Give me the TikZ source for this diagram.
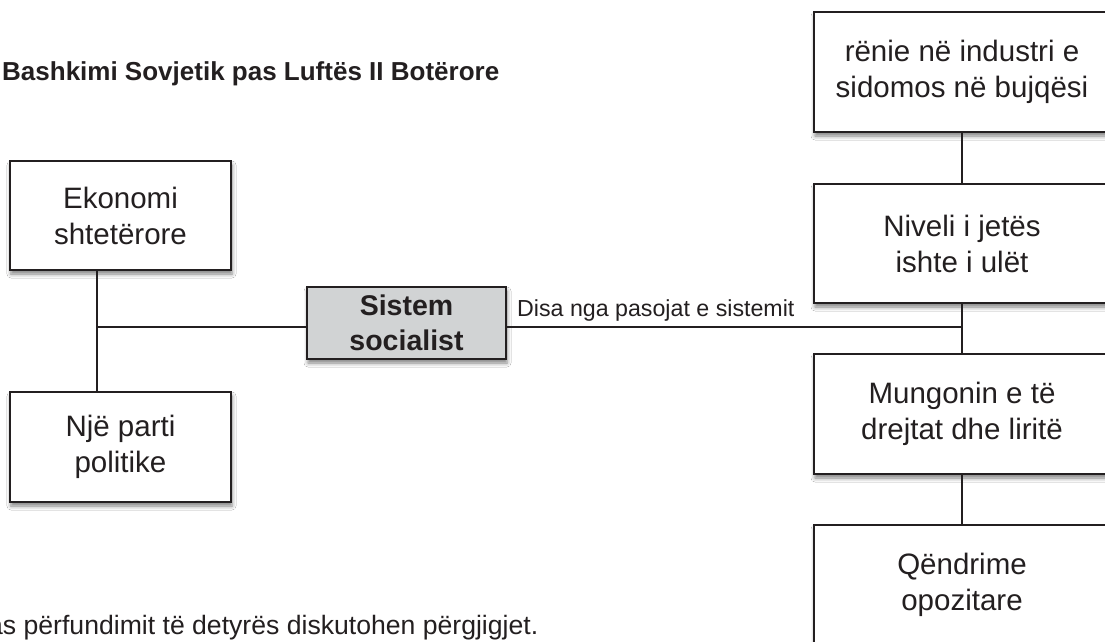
\documentclass[tikz,border=0pt]{standalone}
\usepackage{fontspec}
\setmainfont{Liberation Sans}
\usetikzlibrary{shadows.blur}
\definecolor{ink}{HTML}{231F20}
\definecolor{boxgray}{HTML}{D1D3D4}
\begin{document}
\begin{tikzpicture}[x=1pt,y=-1pt,
  every node/.style={text=ink},
  bx/.style={draw=ink, line width=1.1pt, fill=white, align=center, inner sep=0pt,
    font=\fontsize{29.5}{36}\selectfont,
    blur shadow={shadow xshift=1pt, shadow yshift=-4pt, shadow blur radius=4pt, shadow opacity=50}},
  conn/.style={draw=ink, line width=1.1pt}]
\useasboundingbox[fill=white] (0,0) rectangle (1105,642);

% title and bottom text
\node[anchor=base west, inner sep=0pt, font=\bfseries\fontsize{26}{30}\selectfont] (title) at (2,81) {Bashkimi Sovjetik pas Luftës II Botërore};
\node[anchor=base west, inner sep=0pt, font=\fontsize{26.6}{32}\selectfont] (bottom) at (-12,634) {as përfundimit të detyrës diskutohen përgjigjet.};

% left boxes
\node[bx, minimum width=221pt, minimum height=109pt] (eko) at (120.5,215.5) {Ekonomi\\shtetërore};
\node[bx, minimum width=221pt, minimum height=110pt] (nje) at (120.5,447) {Një parti\\politike};

% centre box
\node[bx, fill=boxgray, minimum width=199pt, minimum height=72pt, font=\bfseries\fontsize{28.5}{35}\selectfont] (sis) at (406.5,323) {Sistem\\socialist};

% right boxes
\node[bx, minimum width=296pt, minimum height=120pt] (r1) at (962,72) {rënie në industri e\\sidomos në bujqësi};
\node[bx, minimum width=296pt, minimum height=119pt] (r2) at (962,243.5) {Niveli i jetës\\ishte i ulët};
\node[bx, minimum width=296pt, minimum height=120pt] (r3) at (962,414) {Mungonin e të\\drejtat dhe liritë};
\node[bx, minimum width=296pt, minimum height=120pt] (r4) at (962,585) {Qëndrime\\opozitare};

% junctions
\coordinate (j) at (97,327);
\coordinate (k) at (962,327);

% connectors
\draw[conn] (eko.south -| j) -- (nje.north -| j);
\draw[conn] (j) -- (j -| sis.west);
\draw[conn] (k -| sis.east) -- (k);
\draw[conn] (r1.south) -- (r2.north);
\draw[conn] (r2.south) -- (r3.north);
\draw[conn] (r3.south) -- (r4.north);

% connector label
\node[anchor=base west, inner sep=0pt, font=\fontsize{23.2}{27}\selectfont] (lbl) at (517,316) {Disa nga pasojat e sistemit};
\end{tikzpicture}
\end{document}
